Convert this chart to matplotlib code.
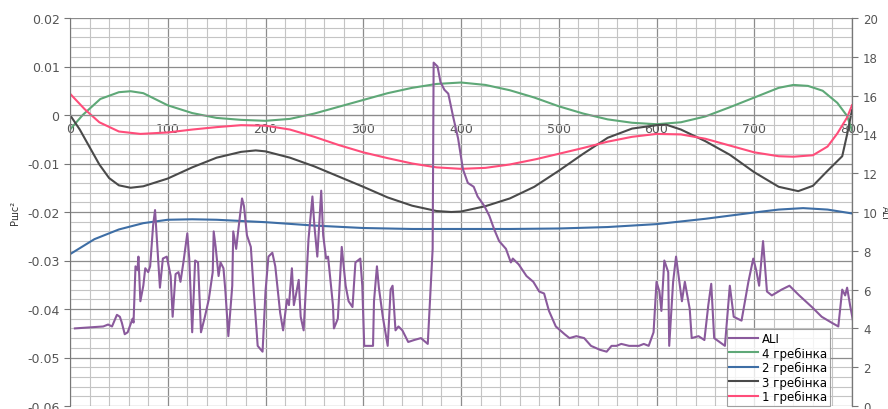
import numpy as np
import matplotlib.pyplot as plt
from matplotlib.ticker import MultipleLocator, FuncFormatter

# smooth curves (left axis), read every ~25 units
x4 = [0, 13, 31, 50, 62, 75, 100, 125, 150, 175, 200, 225, 250, 275, 300, 325, 350, 375, 400, 425,
      450, 475, 500, 525, 550, 575, 600, 625, 650, 675, 700, 725, 740, 755, 770, 785, 795, 800]
g4 = [-0.0030, 0.0000, 0.0033, 0.0047, 0.0049, 0.0045, 0.0020, 0.0004, -0.0006, -0.0010, -0.0012,
      -0.0008, 0.0003, 0.0017, 0.0031, 0.0045, 0.0056, 0.0064, 0.0067, 0.0062, 0.0051, 0.0036,
      0.0018, 0.0003, -0.0009, -0.0016, -0.0019, -0.0015, -0.0003, 0.0016, 0.0036, 0.0056,
      0.0062, 0.0060, 0.0050, 0.0025, -0.0002, -0.0032]

x1 = [0, 15, 30, 50, 72, 100, 125, 150, 175, 200, 225, 250, 275, 300, 325, 350, 375, 400, 425, 450,
      477, 500, 525, 550, 575, 600, 625, 650, 675, 700, 725, 740, 760, 775, 785, 795, 800]
g1 = [0.0044, 0.0012, -0.0015, -0.0034, -0.0039, -0.0036, -0.0030, -0.0025, -0.0021, -0.0022,
      -0.0030, -0.0045, -0.0062, -0.0077, -0.0089, -0.0100, -0.0108, -0.0111, -0.0109, -0.0102,
      -0.0091, -0.0080, -0.0068, -0.0055, -0.0045, -0.0039, -0.0040, -0.0049, -0.0063, -0.0077,
      -0.0085, -0.0086, -0.0083, -0.0065, -0.0038, -0.0005, 0.0020]

x3 = [0, 10, 20, 30, 40, 50, 62, 75, 100, 125, 150, 175, 190, 200, 225, 250, 275, 300, 325, 350,
      375, 390, 400, 425, 450, 475, 500, 525, 550, 575, 600, 610, 625, 650, 675, 700, 725, 745,
      760, 775, 790, 795, 800]
g3 = [0.0000, -0.0030, -0.0066, -0.0102, -0.0130, -0.0145, -0.0150, -0.0147, -0.0131, -0.0108,
      -0.0088, -0.0076, -0.0073, -0.0075, -0.0088, -0.0106, -0.0127, -0.0148, -0.0170, -0.0187,
      -0.0198, -0.0200, -0.0199, -0.0188, -0.0172, -0.0148, -0.0115, -0.0080, -0.0047, -0.0028,
      -0.0021, -0.0020, -0.0030, -0.0054, -0.0082, -0.0118, -0.0148, -0.0157, -0.0146, -0.0115,
      -0.0085, -0.0040, 0.0010]

x2 = [0, 25, 50, 75, 100, 125, 150, 200, 250, 300, 350, 400, 450, 500, 550, 600, 650, 700, 725,
      750, 775, 800]
g2 = [-0.0287, -0.0256, -0.0236, -0.0223, -0.0216, -0.0215, -0.0216, -0.0221, -0.0228, -0.0233,
      -0.0235, -0.0235, -0.0235, -0.0234, -0.0231, -0.0225, -0.0214, -0.0201, -0.0195, -0.0192,
      -0.0195, -0.0203]

# ALI (right axis)
x_ali = [5, 34, 39, 43, 48, 51, 53, 56, 59, 64, 65, 67, 69, 70, 72, 75, 77, 80, 82, 85, 87, 89, 92,
         95, 99, 103, 105, 108, 111, 113, 116, 120, 122, 125, 128, 131, 134, 138, 142, 146, 147,
         149, 152, 154, 157, 159, 162, 166, 167, 170, 172, 176, 178, 181, 185, 188, 192, 197, 200,
         203, 207, 210, 215, 218, 222, 224, 227, 229, 231, 234, 236, 239, 244, 248, 250, 253, 257,
         259, 262, 264, 269, 270, 274, 278, 282, 285, 289, 292, 297, 299, 301, 310, 311, 314, 316,
         320, 325, 328, 330, 333, 336, 340, 346, 352, 359, 366, 368, 371, 372, 376, 379, 383, 387,
         392, 397, 402, 407, 413, 417, 424, 429, 434, 439, 446, 451, 453, 459, 467, 474, 480, 485,
         490, 497, 506, 511, 518, 526, 533, 542, 549, 554, 559, 564, 572, 582, 587, 592, 597, 600,
         603, 605, 608, 612, 613, 617, 620, 626, 629, 634, 636, 643, 649, 653, 656, 659, 670, 675,
         679, 687, 694, 699, 702, 705, 709, 713, 718, 728, 736, 746, 759, 769, 779, 786, 790, 793,
         795, 798, 801]
ali = [4.0, 4.1, 4.2, 4.1, 4.7, 4.6, 4.3, 3.7, 3.8, 4.5, 4.3, 7.2, 7.0, 7.7, 5.4, 6.2, 7.1, 6.9, 7.2,
       9.3, 10.1, 8.5, 6.1, 7.6, 7.7, 6.7, 4.6, 6.8, 6.9, 6.4, 7.4, 8.9, 7.6, 3.8, 7.5, 7.4, 3.8,
       4.6, 5.5, 6.9, 9.0, 8.2, 6.7, 7.4, 7.1, 5.9, 3.6, 6.2, 9.0, 8.1, 9.0, 10.7, 10.3, 8.8, 8.2,
       5.9, 3.1, 2.8, 5.9, 7.7, 7.9, 7.2, 4.8, 3.9, 5.5, 5.2, 7.1, 5.2, 5.7, 6.5, 4.6, 3.9, 8.6,
       10.8, 9.3, 7.7, 11.1, 8.8, 7.6, 7.7, 5.2, 4.0, 4.5, 8.2, 6.2, 5.4, 5.1, 7.4, 7.6, 6.2, 3.1,
       3.1, 5.4, 7.2, 6.1, 4.6, 3.1, 6.0, 6.2, 3.9, 4.1, 3.9, 3.3, 3.4, 3.5, 3.2, 5.2, 8.1, 17.7,
       17.5, 16.7, 16.3, 16.1, 14.9, 13.8, 12.2, 11.5, 11.3, 10.8, 10.3, 9.8, 9.1, 8.5, 8.1, 7.4,
       7.6, 7.3, 6.7, 6.4, 5.9, 5.8, 4.9, 4.1, 3.7, 3.5, 3.6, 3.5, 3.1, 2.9, 2.8, 3.1, 3.1, 3.2,
       3.1, 3.1, 3.2, 3.1, 3.8, 6.4, 5.9, 4.9, 7.5, 6.9, 3.1, 6.4, 7.7, 5.4, 6.4, 5.0, 3.5, 3.6,
       3.4, 5.2, 6.3, 3.5, 3.1, 6.2, 4.6, 4.4, 6.4, 7.6, 7.0, 6.2, 8.5, 5.9, 5.7, 6.0, 6.2, 5.7,
       5.1, 4.6, 4.3, 4.1, 6.0, 5.7, 6.1, 5.2, 4.4]

c_ali = '#8a5a9c'
c4 = '#5ea877'
c2 = '#3e6ea5'
c3 = '#4a4a4a'
c1 = '#ff4d7a'
tick_col = '#555555'

fig = plt.figure(figsize=(8.88, 4.10), dpi=100)
ax = fig.add_axes([70 / 888, 3 / 410, 782 / 888, 388 / 410])
ax2 = ax.twinx()

l4, = ax.plot(x4, g4, color=c4, lw=1.5, label='4 гребінка')
l2, = ax.plot(x2, g2, color=c2, lw=1.5, label='2 гребінка')
l3, = ax.plot(x3, g3, color=c3, lw=1.5, label='3 гребінка')
l1, = ax.plot(x1, g1, color=c1, lw=1.5, label='1 гребінка')
la, = ax2.plot(x_ali, ali, color=c_ali, lw=1.5, label='ALI')

ax.set_xlim(0, 800)
ax.set_ylim(-0.06, 0.02)
ax2.set_ylim(0, 20)

ax.xaxis.set_major_locator(MultipleLocator(100))
ax.xaxis.set_minor_locator(MultipleLocator(20))
ax.yaxis.set_major_locator(MultipleLocator(0.01))
ax.yaxis.set_minor_locator(MultipleLocator(0.002))
ax2.yaxis.set_major_locator(MultipleLocator(2))


def fmt(v, _):
    v = round(v, 3)
    return '0' if abs(v) < 1e-9 else f'{v:g}'


ax.yaxis.set_major_formatter(FuncFormatter(fmt))

ax.grid(which='major', color='#8c8c8c', lw=0.9)
ax.grid(which='minor', color='#c4c4c4', lw=0.8)
ax.set_axisbelow(True)

ax.spines['bottom'].set_position(('data', 0))
ax.spines['bottom'].set_color('#8c8c8c')
ax.spines['top'].set_visible(False)
ax2.spines['top'].set_visible(False)
ax.spines['left'].set_color('#777777')
ax2.spines['right'].set_color('#777777')
ax2.spines['left'].set_visible(False)
ax2.spines['bottom'].set_visible(False)

ax.tick_params(axis='x', which='both', length=0, pad=5, labelsize=9, labelcolor=tick_col)
ax.tick_params(axis='y', which='major', length=4, color='#777777', labelsize=9, labelcolor=tick_col)
ax.tick_params(axis='y', which='minor', length=0)
ax2.tick_params(axis='y', length=4, color='#777777', labelsize=8.5, labelcolor=tick_col, pad=4)

ax.set_ylabel('Ршс²', fontsize=7, color='#333333', labelpad=5)
ax2.set_ylabel('ALI', fontsize=6.5, color='#333333', rotation=270, va='center', ha='center')
ax2.yaxis.set_label_coords(1.041, 0.5)

leg = ax2.legend(handles=[la, l4, l2, l3, l1], loc='lower right',
                 bbox_to_anchor=(830 / 888, 3 / 410), bbox_transform=fig.transFigure,
                 fontsize=8.5, frameon=True, fancybox=False,
                 borderpad=0.25, labelspacing=0.12, handlelength=2.4, handletextpad=0.35,
                 borderaxespad=0)
leg.get_frame().set_edgecolor('#888888')
leg.get_frame().set_linewidth(0.8)

fig.savefig('out.png', dpi=100)
